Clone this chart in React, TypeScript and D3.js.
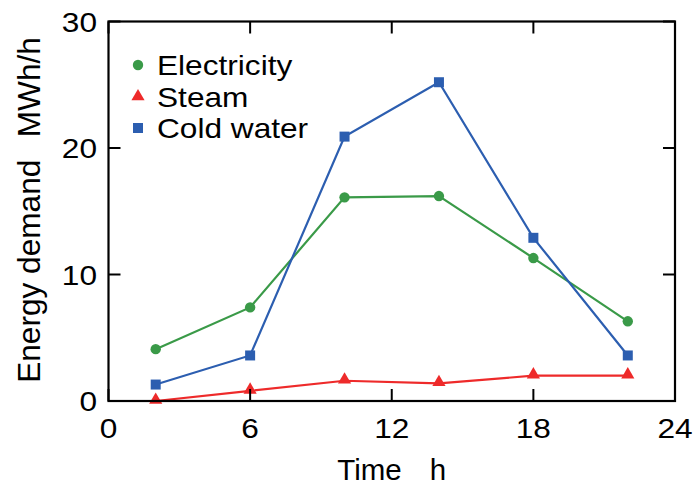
import React from "react";
import * as d3 from "d3";

const hours = [2, 6, 10, 14, 18, 22];
const electricity = [4.1, 7.4, 16.1, 16.2, 11.3, 6.3];
const steam = [0.0, 0.8, 1.6, 1.4, 2.0, 2.0];
const coldWater = [1.3, 3.6, 20.9, 25.2, 12.9, 3.6];
const xTicks = [0, 6, 12, 18, 24];
const yTicks = [0, 10, 20, 30];
const seriesNames = ["Electricity", "Steam", "Cold water"];

const W = 696;
const H = 490;
const left = 108.5;
const right = 675;
const top = 21.5;
const bottom = 401;

const colors = ["#3a9a48", "#ee2a2a", "#2c5eb0"];
const shapes = [d3.symbolCircle, d3.symbolTriangle, d3.symbolSquare];
const sizes = [85, 75, 100];

function T(props: {
  x: number;
  y: number;
  anchor?: string;
  rotate?: number;
  fs?: number;
  sx?: number;
  children: React.ReactNode;
}) {
  const { x, y, anchor = "start", rotate = 0, fs = 28, sx = 1.13, children } = props;
  return (
    <g transform={`translate(${x},${y}) rotate(${rotate}) scale(${sx},1)`}>
      <text x={0} y={0} textAnchor={anchor} fontSize={fs} fill="#000">
        {children}
      </text>
    </g>
  );
}

export default function App() {
  const x = d3.scaleLinear().domain([0, 24]).range([left, right]);
  const y = d3.scaleLinear().domain([0, 30]).range([bottom, top]);
  const series = [electricity, steam, coldWater];
  const line = d3
    .line<[number, number]>()
    .x((d) => x(d[0]))
    .y((d) => y(d[1]));
  const font = "'Liberation Sans', Arial, sans-serif";
  const tickLen = 12;

  return (
    <svg width={W} height={H} style={{ position: "absolute", left: 0, top: 0, background: "#fff" }} fontFamily={font}>
      <rect x={0} y={0} width={W} height={H} fill="#fff" />
      {series.map((vals, si) => {
        const pts = hours.map((h, i) => [h, vals[i]] as [number, number]);
        const sym = d3.symbol().type(shapes[si]).size(sizes[si]);
        return (
          <g key={si}>
            <path d={line(pts) || ""} fill="none" stroke={colors[si]} strokeWidth={2.2} />
            {pts.map((p, i) => (
              <path
                key={i}
                d={sym() || ""}
                transform={`translate(${x(p[0])},${y(p[1]) + (si === 1 ? -1 : 0)})`}
                fill={colors[si]}
              />
            ))}
          </g>
        );
      })}
      <rect x={left} y={top} width={right - left} height={bottom - top} fill="none" stroke="#000" strokeWidth={2.2} />
      {xTicks.map((t) => (
        <g key={"x" + t}>
          <line x1={x(t)} x2={x(t)} y1={bottom} y2={bottom - tickLen} stroke="#000" strokeWidth={2} />
          <line x1={x(t)} x2={x(t)} y1={top} y2={top + tickLen} stroke="#000" strokeWidth={2} />
          <T x={x(t)} y={438} anchor="middle">
            {t}
          </T>
        </g>
      ))}
      {yTicks.map((t) => (
        <g key={"y" + t}>
          <line x1={left} x2={left + tickLen} y1={y(t)} y2={y(t)} stroke="#000" strokeWidth={2} />
          <line x1={right} x2={right - tickLen} y1={y(t)} y2={y(t)} stroke="#000" strokeWidth={2} />
          <T x={97} y={y(t) + 10} anchor="end">
            {t}
          </T>
        </g>
      ))}
      <T x={(left + right) / 2} y={480} anchor="middle" fs={29.5} sx={1}>
        <tspan>Time</tspan>
        <tspan dx={28}>h</tspan>
      </T>
      <T x={40} y={210} anchor="middle" rotate={-90} fs={31} sx={1.02}>
        <tspan>Energy demand</tspan>
        <tspan dx={22}>MWh/h</tspan>
      </T>
      {seriesNames.map((name, i) => {
        const cy = 65 + i * 31.5;
        const sym = d3.symbol().type(shapes[i]).size(sizes[i]);
        return (
          <g key={name}>
            <path d={sym() || ""} transform={`translate(138,${cy})`} fill={colors[i]} />
            <T x={157} y={cy + 10}>
              {name}
            </T>
          </g>
        );
      })}
    </svg>
  );
}
